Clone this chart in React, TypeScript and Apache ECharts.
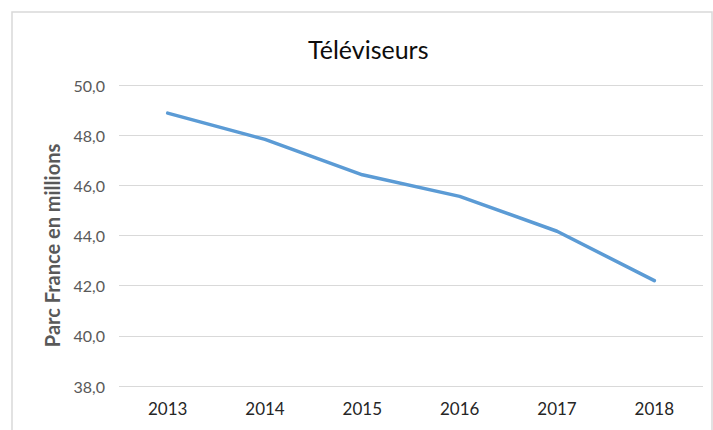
import React, { useEffect, useRef } from "react";
import * as echarts from "echarts";

const years = ["2013", "2014", "2015", "2016", "2017", "2018"];
const parcValues = [48.88, 47.83, 46.42, 45.56, 44.17, 42.2];
const chartTitle = "Téléviseurs";
const yAxisName = "Parc France en millions";

export default function App() {
  const ref = useRef<HTMLDivElement>(null);
  useEffect(() => {
    if (!ref.current) return;
    const chart = echarts.init(ref.current, null, { renderer: "svg" });
    chart.setOption({
      animation: false,
      backgroundColor: "#ffffff",
      textStyle: { fontFamily: "Lato" },
      title: {
        text: chartTitle,
        left: 303,
        top: 31,
        textStyle: { fontFamily: "Lato", fontSize: 25, fontWeight: "normal", color: "#0d0d0d" },
      },
      graphic: [
        {
          type: "rect",
          shape: { x: 12, y: 12, width: 700, height: 440 },
          style: { fill: "none", stroke: "#d9d9d9", lineWidth: 1.5 },
          silent: true,
        },
      ],
      grid: { left: 119, right: 10, top: 85, bottom: 44 },
      xAxis: {
        type: "category",
        data: years,
        boundaryGap: true,
        axisLine: { show: false },
        axisTick: { show: false },
        axisLabel: { fontFamily: "Lato", fontSize: 17, color: "#262626", margin: 14 },
      },
      yAxis: {
        type: "value",
        min: 38,
        max: 50,
        interval: 2,
        name: yAxisName,
        nameLocation: "middle",
        nameGap: 57,
        nameTextStyle: {
          fontFamily: "Lato",
          fontSize: 20,
          fontWeight: "bold",
          color: "#595959",
          padding: [0, 20, 0, 0],
        },
        axisLine: { show: false },
        axisTick: { show: false },
        axisLabel: {
          fontFamily: "Lato",
          fontSize: 16,
          color: "#595959",
          margin: 14,
          formatter: (v: number) => v.toFixed(1).replace(".", ","),
        },
        splitLine: { lineStyle: { color: "#d9d9d9", width: 1 } },
      },
      series: [
        {
          type: "line",
          data: parcValues,
          symbol: "none",
          lineStyle: { color: "#5b9bd5", width: 3.5, cap: "round", join: "round" },
        },
      ],
    });
    return () => chart.dispose();
  }, []);
  return (
    <div
      ref={ref}
      style={{ position: "fixed", left: 0, top: 0, width: 713, height: 430 }}
    />
  );
}
